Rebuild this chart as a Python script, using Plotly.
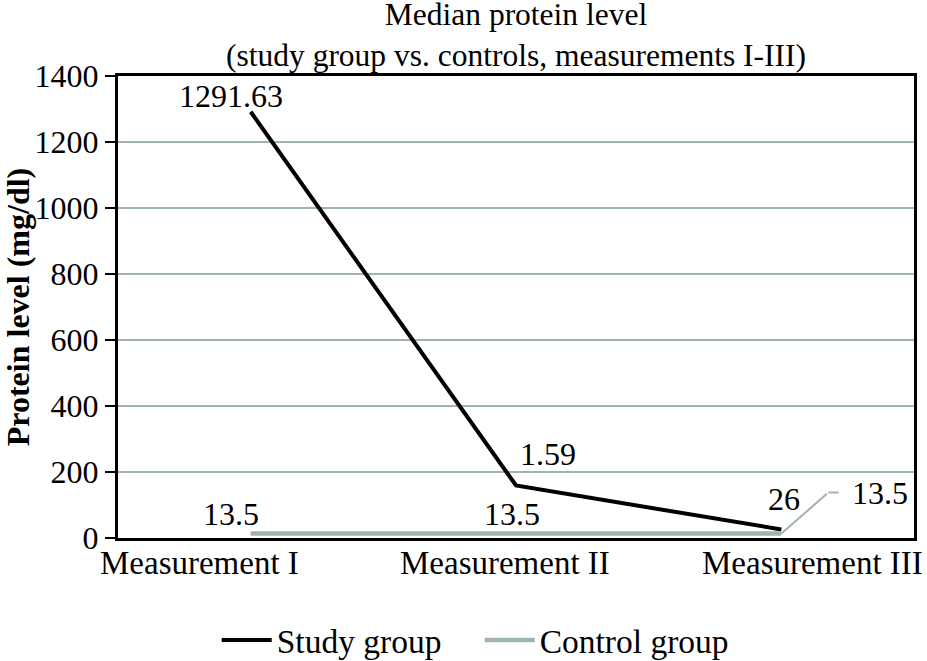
import plotly.graph_objects as go

categories = ["Measurement I", "Measurement II", "Measurement III"]
study_values = [1291.63, 159, 26]
study_labels = ["1291.63", "1.59", "26"]
control_values = [13.5, 13.5, 13.5]
control_labels = ["13.5", "13.5", "13.5"]
y_ticks = [0, 200, 400, 600, 800, 1000, 1200, 1400]
title_lines = ["Median protein level", "(study group vs. controls, measurements I-III)"]

FONT = "Liberation Serif"
GRID = "#9fb3b3"

fig = go.Figure()
fig.add_trace(go.Scatter(x=categories, y=study_values, mode="lines", name="Study group",
                         line=dict(color="black", width=4)))
fig.add_trace(go.Scatter(x=categories, y=control_values, mode="lines", name="Control group",
                         line=dict(color=GRID, width=4.5)))

ann = []
# data labels (study)
study_shift = [(-20, 16), (32, 32), (3, 30)]
for c, v, t, (dx, dy) in zip(categories, study_values, study_labels, study_shift):
    ann.append(dict(x=c, y=v, text=t, showarrow=False, xshift=dx, yshift=dy,
                    font=dict(family=FONT, size=32, color="black")))
# data labels (control)
control_shift = [(-20, 20), (-4, 20)]
for c, v, t, (dx, dy) in zip(categories[:2], control_values[:2], control_labels[:2], control_shift):
    ann.append(dict(x=c, y=v, text=t, showarrow=False, xshift=dx, yshift=dy,
                    font=dict(family=FONT, size=32, color="black")))
# last control label with a leader line
ann.append(dict(x=categories[2], y=control_values[2], text="", showarrow=True,
                arrowhead=0, arrowwidth=2, arrowcolor=GRID, ax=47, ay=-41, standoff=0))
ann.append(dict(x=categories[2], y=control_values[2], text="", showarrow=True,
                xshift=47, yshift=41, arrowhead=0, arrowwidth=2, arrowcolor=GRID,
                ax=12, ay=0, standoff=0))
ann.append(dict(x=categories[2], y=control_values[2], text=control_labels[2], showarrow=False,
                xshift=99, yshift=41, font=dict(family=FONT, size=32, color="black")))
# category labels
cat_pos = [0.103, 0.486, 0.873]
for c, p in zip(categories, cat_pos):
    ann.append(dict(x=p, xref="paper", xanchor="center", y=0, yref="paper", yshift=-25,
                    text=c, showarrow=False, yanchor="middle",
                    font=dict(family=FONT, size=33, color="black")))

fig.update_layout(
    width=927, height=661,
    margin=dict(l=118, r=13, t=76, b=123, autoexpand=False),
    paper_bgcolor="white", plot_bgcolor="white",
    font=dict(family=FONT, size=32, color="black"),
    title=dict(text="<br>".join(title_lines),
               x=0.5, xref="paper", xanchor="center", y=0.962, yref="container", yanchor="top",
               font=dict(family=FONT, size=31.5, color="black")),
    xaxis=dict(type="category", range=[-0.5, 2.5], showticklabels=False, ticks="",
               showgrid=False, showline=True, linecolor="black", linewidth=3, mirror=True,
               zeroline=False, automargin=False),
    yaxis=dict(range=[0, 1400], tickvals=y_ticks, showgrid=True, gridcolor=GRID, gridwidth=2,
               showline=True, linecolor="black", linewidth=3, mirror=True, zeroline=False,
               ticks="outside", ticklen=10, tickwidth=2, tickcolor="black",
               tickfont=dict(family=FONT, size=32), automargin=False,
               title=dict(text="<b>Protein level (mg/dl)</b>",
                          font=dict(family=FONT, size=32))),
    legend=dict(orientation="h", x=0.124, xanchor="left", y=-0.221, yanchor="middle",
                font=dict(family=FONT, size=33.5), itemwidth=50, entrywidth=198,
                entrywidthmode="pixels", bgcolor="rgba(0,0,0,0)"),
    annotations=ann,
    showlegend=True,
)
fig.write_html("out.html", config={"displayModeBar": False},
               post_script="document.body.style.margin='0';")
